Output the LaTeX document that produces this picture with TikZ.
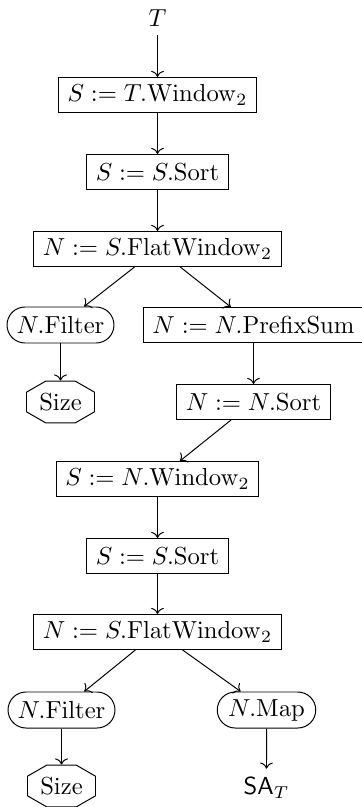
\documentclass[tikz,border=0pt]{standalone}
\usetikzlibrary{shapes.misc,arrows.meta}
\begin{document}
\begin{tikzpicture}[x=0.406pt,y=-0.406pt,
  opbox/.style={draw,rectangle,inner xsep=3.6pt,inner ysep=2pt,minimum height=35*0.406pt},
  rbox/.style={draw,rounded rectangle,inner xsep=3pt,inner ysep=2pt,minimum height=36*0.406pt},
  endbox/.style={draw,chamfered rectangle,chamfered rectangle angle=60,inner sep=2pt,minimum height=41*0.406pt,minimum width=68*0.406pt},
  arr/.style={->}]
\useasboundingbox (0,0) rectangle (361,807);
\node (t) at (157.5,18) {$T$};
\node[opbox] (w1) at (157.5,95) {$S := T.\mathrm{Window}_2$};
\node[opbox] (s1) at (157.5,172) {$S := S.\mathrm{Sort}$};
\node[opbox] (f1) at (157.5,249) {$N := S.\mathrm{FlatWindow}_2$};
\node[rbox] (fi1) at (60.5,325) {$N.\mathrm{Filter}$};
\node[opbox] (ps) at (253.5,325) {$N := N.\mathrm{PrefixSum}$};
\node[endbox] (sz1) at (60.5,402) {Size};
\node[opbox] (ns) at (253.5,402) {$N := N.\mathrm{Sort}$};
\node[opbox] (w2) at (157.5,479) {$S := N.\mathrm{Window}_2$};
\node[opbox] (s2) at (157.5,556) {$S := S.\mathrm{Sort}$};
\node[opbox] (f2) at (157.5,632) {$N := S.\mathrm{FlatWindow}_2$};
\node[rbox] (fi2) at (61.5,710) {$N.\mathrm{Filter}$};
\node[rbox] (mp) at (266.5,710) {$N.\mathrm{Map}$};
\node[endbox] (sz2) at (61.5,786) {Size};
\node (sa) at (266.5,788) {\textsf{SA}$_T$};
\draw[arr] (t) -- (w1);
\draw[arr] (w1) -- (s1);
\draw[arr] (s1) -- (f1);
\draw[arr] (f1) -- (fi1);
\draw[arr] (f1) -- (ps);
\draw[arr] (fi1.south) -- (fi1.south |- sz1.north);
\draw[arr] (ps) -- (ns);
\draw[arr] (ns) -- (w2);
\draw[arr] (w2) -- (s2);
\draw[arr] (s2) -- (f2);
\draw[arr] (f2) -- (fi2);
\draw[arr] (f2) -- (mp);
\draw[arr] (fi2.south) -- (fi2.south |- sz2.north);
\draw[arr] (mp) -- (sa);
\end{tikzpicture}
\end{document}
